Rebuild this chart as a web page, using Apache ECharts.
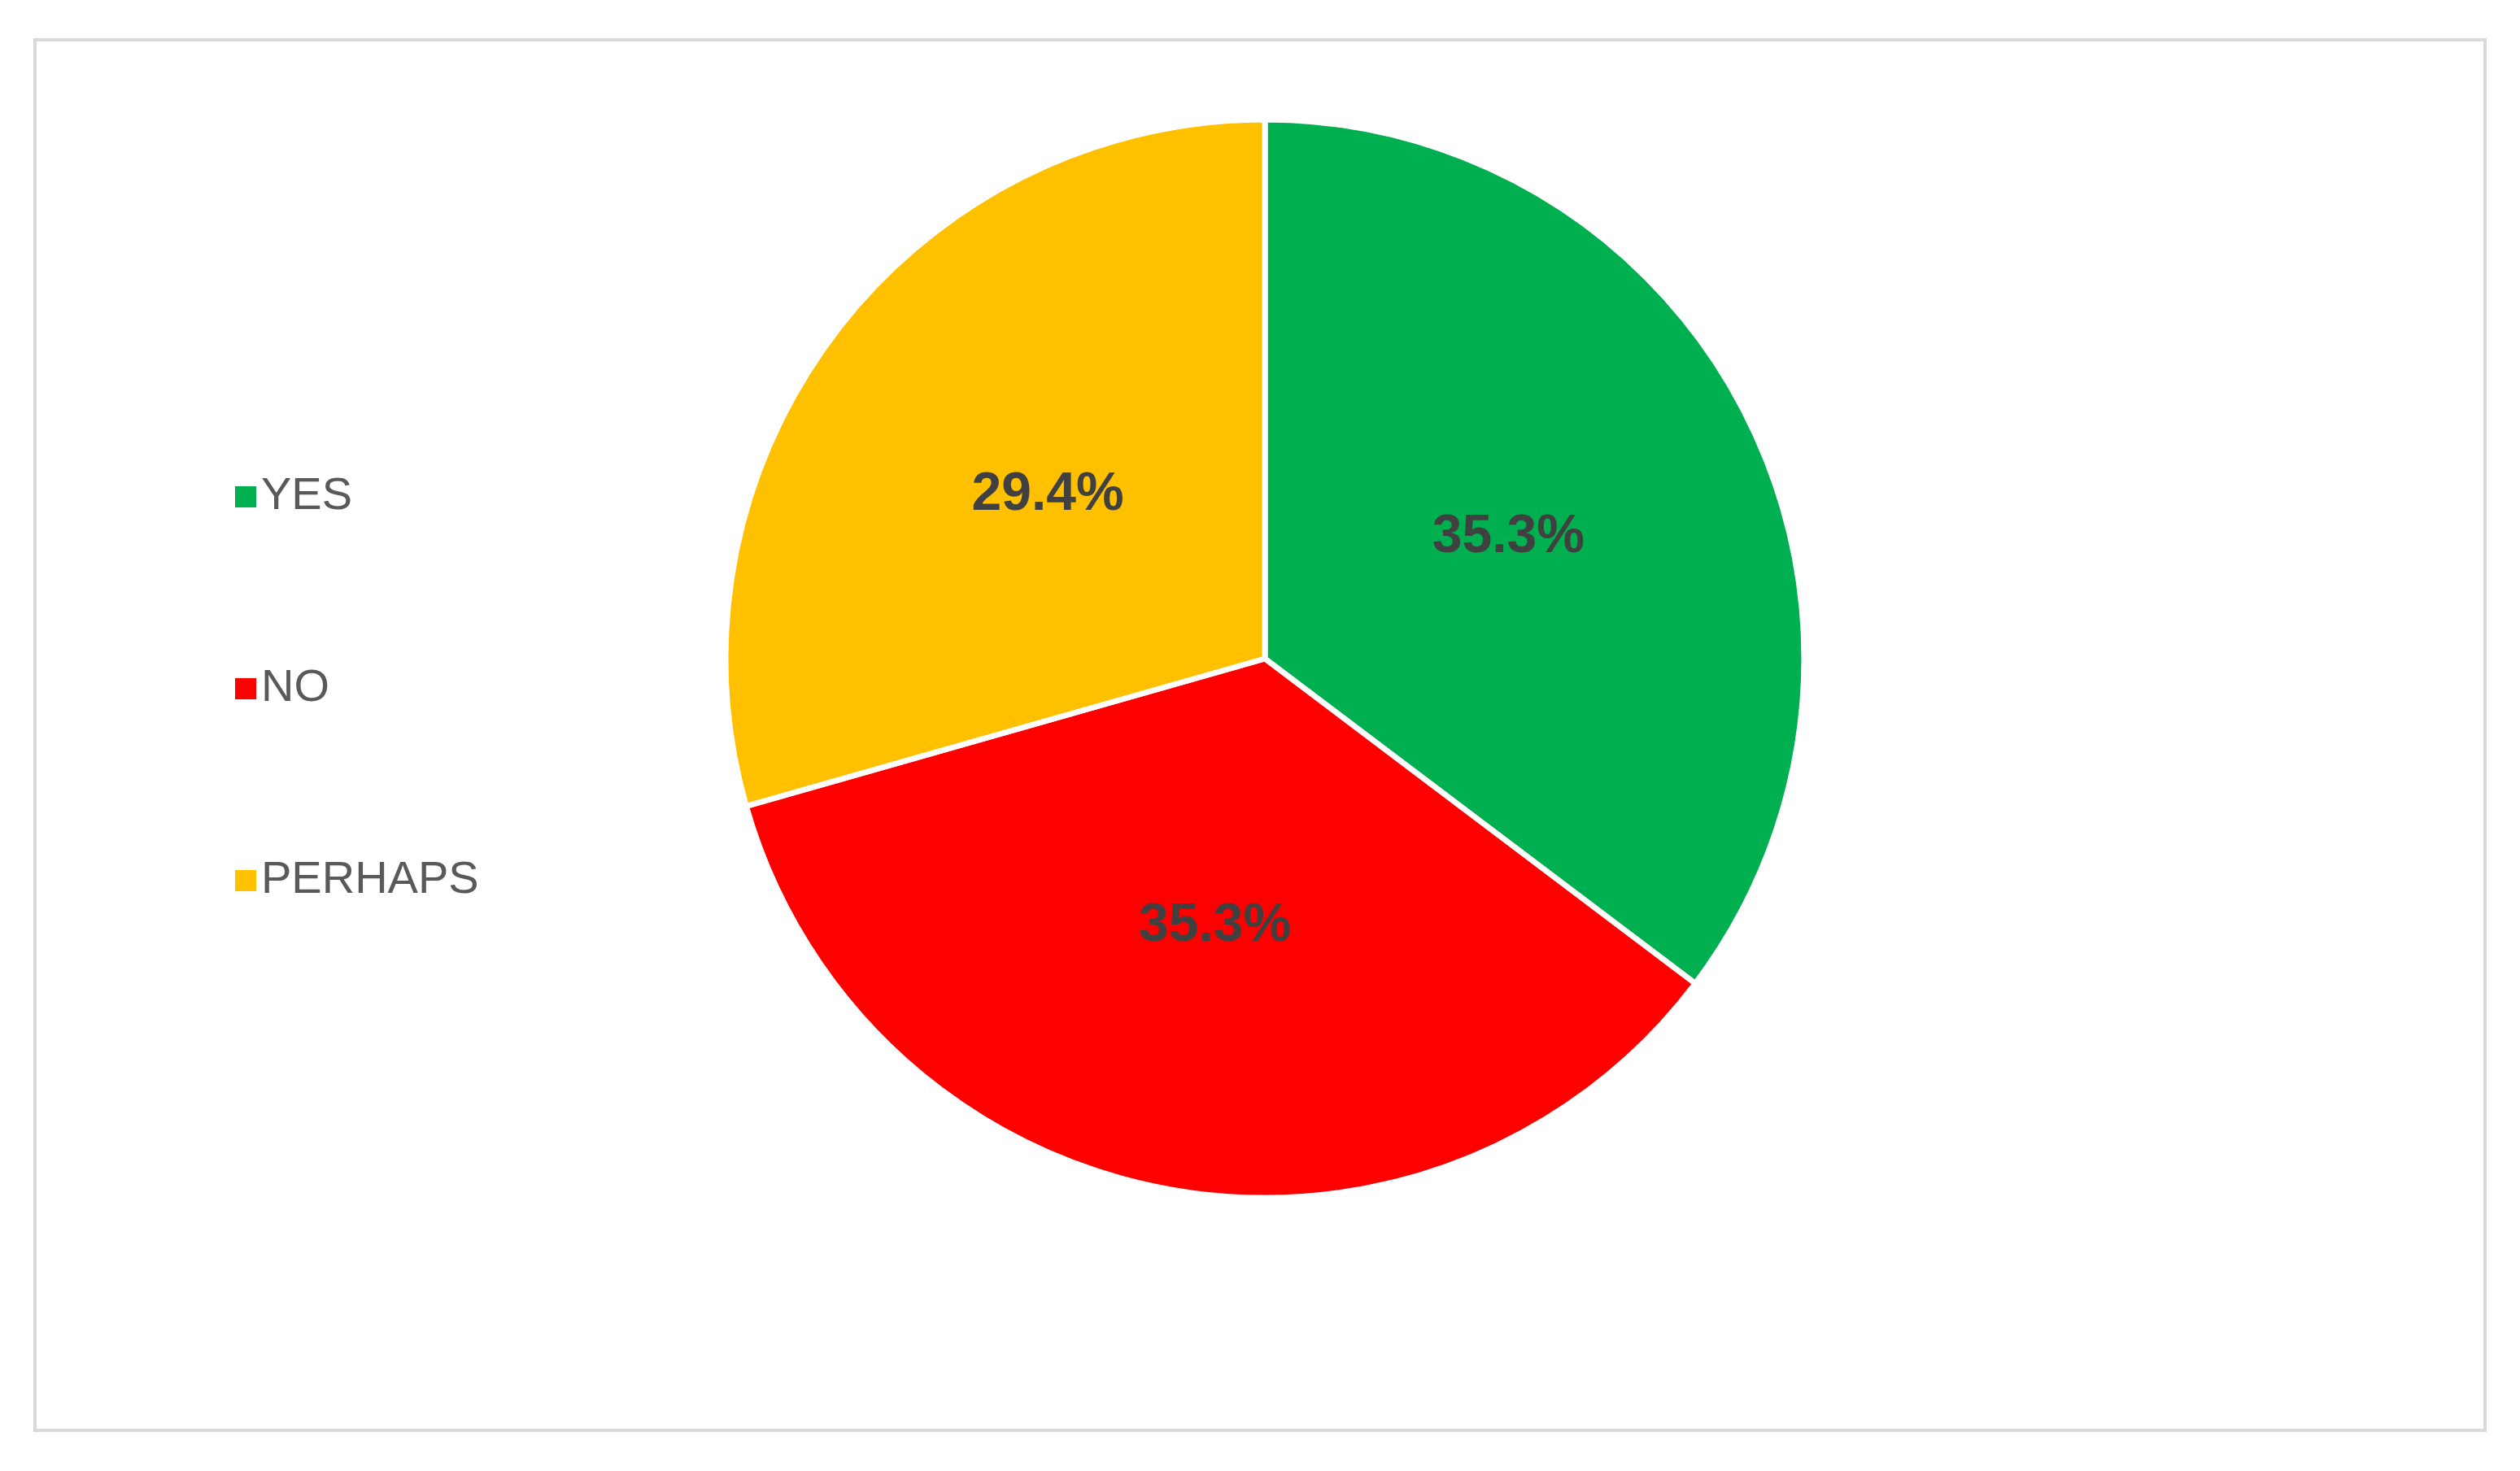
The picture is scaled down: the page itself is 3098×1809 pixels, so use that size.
<!DOCTYPE html>
<html>
<head>
<meta charset="utf-8">
<script src="https://cdn.jsdelivr.net/npm/echarts@6/dist/echarts.min.js"></script>
<style>html,body{margin:0;padding:0;background:#fff;}#chart{width:3098px;height:1809px;}</style>
</head>
<body>
<div id="chart"></div>
<script>
// answers and counts (35.3% / 35.3% / 29.4%)
var categories = ['YES', 'NO', 'PERHAPS'];
var counts = [6, 6, 5];
var colors = ['#00B050', '#FF0000', '#FFC000'];

var chart = echarts.init(document.getElementById('chart'));
var data = categories.map(function (name, i) {
    return { name: name, value: counts[i], itemStyle: { color: colors[i] } };
});
chart.setOption({
    backgroundColor: '#fff',
    graphic: [{
        type: 'rect',
        shape: { x: 43, y: 49, width: 3012, height: 1710 },
        style: { fill: 'none', stroke: '#d9d9d9', lineWidth: 4 }
    }],
    legend: {
        orient: 'vertical',
        left: 282,
        top: 578,
        itemWidth: 28,
        itemHeight: 28,
        itemGap: 180,
        icon: 'rect',
        textStyle: { fontSize: 56, color: '#595959', fontFamily: 'Liberation Sans' },
        data: categories
    },
    series: [{
        type: 'pie',
        center: [1555, 810],
        radius: [0, 663],
        startAngle: 90,
        clockwise: true,
        avoidLabelOverlap: false,
        itemStyle: { borderColor: '#fff', borderWidth: 7 },
        label: {
            position: 'inside',
            formatter: function (p) { return p.percent.toFixed(1) + '%'; },
            fontSize: 66,
            fontWeight: 'bold',
            color: '#404040',
            fontFamily: 'Liberation Sans'
        },
        labelLine: { show: false },
        data: data
    }]
});
</script>
</body>
</html>
